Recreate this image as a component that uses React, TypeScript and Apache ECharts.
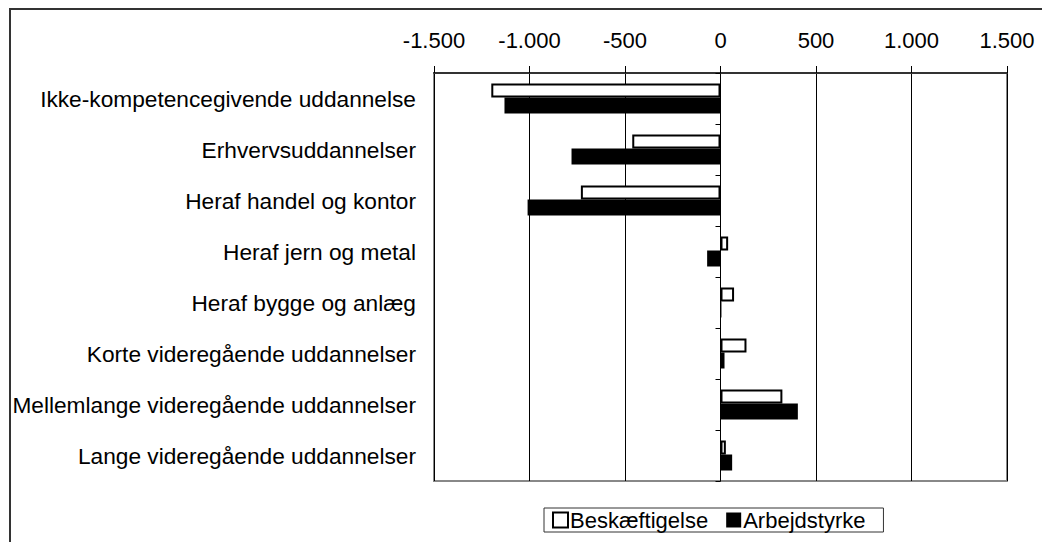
import React, { useEffect, useRef } from "react";
import * as echarts from "echarts";

const categories = [
  "Ikke-kompetencegivende uddannelse",
  "Erhvervsuddannelser",
  "Heraf handel og kontor",
  "Heraf jern og metal",
  "Heraf bygge og anlæg",
  "Korte videregående uddannelser",
  "Mellemlange videregående uddannelser",
  "Lange videregående uddannelser",
];
const beskaeftigelse = [-1200, -462, -731, 40, 71, 136, 324, 28];
const arbejdsstyrke = [-1131, -780, -1010, -70, 5, 21, 405, 61];
const seriesNames = ["Beskæftigelse", "Arbejdstyrke"];

const fmt = (v: number) => {
  const s = Math.abs(v).toString().replace(/\B(?=(\d{3})+(?!\d))/g, ".");
  return (v < 0 ? "-" : "") + s;
};

export default function App() {
  const ref = useRef<HTMLDivElement>(null);
  useEffect(() => {
    const chart = echarts.init(ref.current!, undefined, { renderer: "svg" });
    const font = "Liberation Sans, Arial, sans-serif";
    chart.setOption({
      animation: false,
      textStyle: { fontFamily: font },
      graphic: [
        {
          type: "rect",
          shape: { x: 10, y: 9, width: 1060, height: 560 },
          style: { fill: "none", stroke: "#333", lineWidth: 2 },
          silent: true,
        },
      ],
      grid: {
        left: 434,
        right: 35,
        top: 73,
        bottom: 61,
        show: true,
        borderColor: "#888",
        borderWidth: 2,
        backgroundColor: "transparent",
      },
      legend: {
        bottom: 10,
        left: 544,
        data: [
          { name: seriesNames[0], icon: "rect", itemStyle: { color: "#fff", borderColor: "#000", borderWidth: 2 } },
          { name: seriesNames[1], icon: "rect", itemStyle: { color: "#000" } },
        ],
        itemWidth: 15,
        itemHeight: 15,
        itemGap: 18,
        padding: [1, 18, 1, 8],
        borderColor: "#333",
        borderWidth: 1,
        textStyle: { fontSize: 22, color: "#000", fontFamily: font, padding: [0, 0, 0, -3] },
      },
      xAxis: {
        type: "value",
        position: "top",
        min: -1500,
        max: 1500,
        interval: 500,
        axisLine: { show: true, onZero: false, lineStyle: { color: "#333", width: 2 } },
        axisTick: { show: true, length: 7, lineStyle: { color: "#000" } },
        axisLabel: { formatter: fmt, fontSize: 22, color: "#000", margin: 22, fontFamily: font },
        splitLine: { show: true, lineStyle: { color: "#000", width: 1 } },
      },
      yAxis: [
        {
          type: "category",
          data: categories,
          inverse: true,
          axisLine: { show: false, onZero: false },
          axisTick: { show: false },
          axisLabel: { fontSize: 22.7, color: "#000", margin: 18, fontFamily: font },
        },
        {
          type: "category",
          data: categories,
          inverse: true,
          position: "left",
          axisLine: { show: true, onZero: true, lineStyle: { color: "#000", width: 1 } },
          axisTick: { show: true, length: 5, lineStyle: { color: "#000" } },
          axisLabel: { show: false },
        },
      ],
      series: [
        {
          name: seriesNames[0],
          type: "bar",
          data: beskaeftigelse,
          barWidth: 14,
          barGap: "0%",
          itemStyle: { color: "#fff", borderColor: "#000", borderWidth: 2 },
        },
        {
          name: seriesNames[1],
          type: "bar",
          data: arbejdsstyrke,
          barWidth: 16,
          barGap: "0%",
          itemStyle: { color: "#000" },
        },
      ],
    });
    return () => chart.dispose();
  }, []);
  return (
    <div
      ref={ref}
      style={{ position: "fixed", left: 0, top: 0, width: 1042, height: 542, background: "#fff" }}
    />
  );
}
